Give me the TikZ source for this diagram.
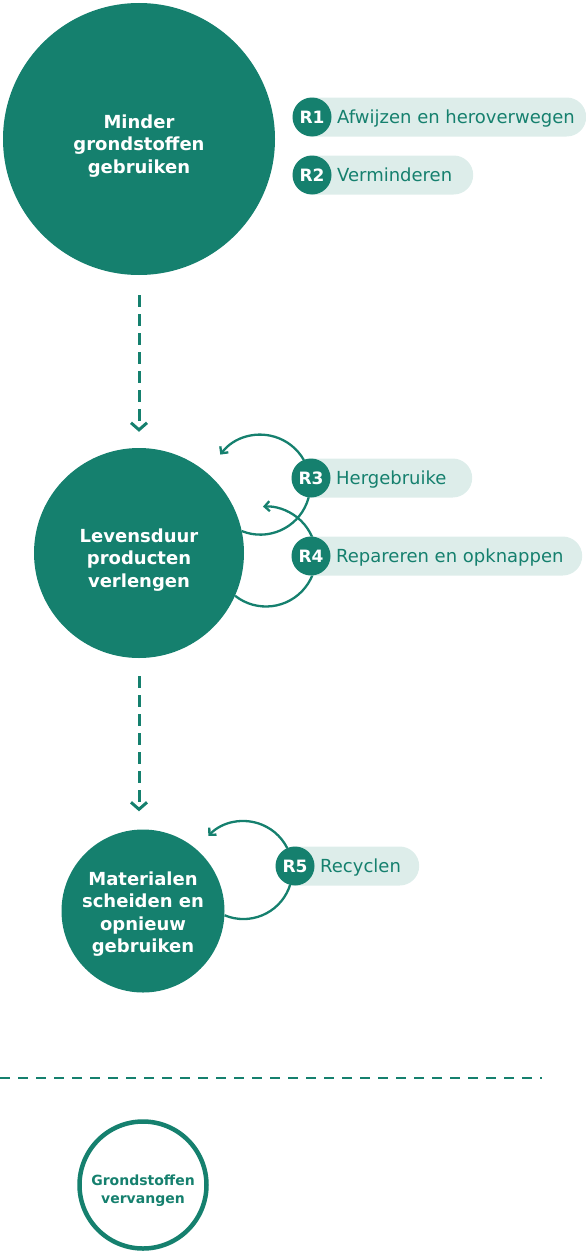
\documentclass[tikz,border=0pt]{standalone}
\usepackage{fontspec}
\setmainfont{DejaVu Sans}
\usepackage{tikz}
\usetikzlibrary{arrows.meta}
\usepackage{xcolor}
\definecolor{rgreen}{HTML}{15806E}
\definecolor{rpale}{HTML}{DDEDEA}
\tikzset{
    bigcirc/.style={
        circle,
        fill=rgreen,
        inner sep=0mm
    },
    bigtext/.style={
        text=white,
        inner sep=0mm,
        align=center,
        font=\bfseries\fontsize{18}{22.5}\selectfont
    },
    ringcirc/.style={
        circle,
        draw=rgreen,
        line width=4.5pt,
        inner sep=0mm
    },
    ringtext/.style={text=rgreen,inner sep=0mm,align=center,font=\bfseries\fontsize{14}{18}\selectfont},
    rtoken/.style={circle,fill=rgreen,minimum size=39pt,inner sep=0mm,text=white,font=\bfseries\fontsize{17}{18}\selectfont},
    rpill/.style={rectangle,fill=rpale,rounded corners=19.5pt,minimum height=39pt,inner sep=0mm,anchor=west},
    rtext/.style={anchor=base west,inner sep=0mm,text=rgreen,font=\fontsize{18}{22}\selectfont},
    dasharrow/.style={draw=rgreen,line width=3pt,dash pattern=on 12pt off 7pt,-{Straight Barb[length=7pt,width=16pt]}},
    looparrow/.style={draw=rgreen,line width=2.3pt,-{Straight Barb[length=5pt,width=10pt]}},
    sepline/.style={draw=rgreen,line width=2pt,dash pattern=on 10pt off 8pt}
}
\newcommand{\rstep}[6] {
    \node[rpill,minimum width=#4-#2+19.5] (#1bar) at (#2-19.5, #3) {};
    \node[rtext] (#1txt) at (#2+25, #3+6) {#6};
    \node[rtoken] (#1) at (#2, #3) {#5};
}
\begin{document}
\begin{tikzpicture}[x=1pt,y=-1pt]
    \useasboundingbox (0,0) rectangle (586,1255);
    % stages
    \node[bigcirc,minimum size=272pt] (minder) at (139,139) {};
    \node[bigtext] (mindertxt) at (139,146) {Minder\\grondstoffen\\gebruiken};
    \node[bigcirc,minimum size=210pt] (levens) at (139,553) {};
    \node[bigtext] (levenstxt) at (139,560) {Levensduur\\producten\\verlengen};
    \node[bigcirc,minimum size=163pt] (mater) at (143,911) {};
    \node[bigtext] (matertxt) at (143,914) {Materialen\\scheiden en\\opnieuw\\gebruiken};
    % down
    \draw[dasharrow,shorten <=20pt,shorten >=16pt] (minder) -- (levens);
    \draw[dasharrow,shorten <=18pt,shorten >=18pt] (levens) -- (levens |- mater.north);
    % loops
    \draw[looparrow] (levens.12.5) arc[start angle=111.6,end angle=-143.1,radius=50];
    \draw[looparrow] (levens.-24.6) arc[start angle=128.2,end angle=-93.5,radius=50];
    \draw[looparrow] (mater.-3) arc[start angle=112.6,end angle=-135.8,radius=49];
    % r-strategies
    \rstep{rone}  {312}{117}{586}{R1}{Afwijzen en heroverwegen}
    \rstep{rtwo}  {312}{175}{473}{R2}{Verminderen}
    \rstep{rthree}{311}{478}{472}{R3}{Hergebruike}
    \rstep{rfour} {311}{556}{582}{R4}{Repareren en opknappen}
    \rstep{rfive} {295}{866}{419}{R5}{Recyclen}
    % separator
    \coordinate (sepleft) at (0,1078);
    \coordinate (sepright) at (542,1078);
    \draw[sepline] (sepleft) -- (sepright);
    % substitute
    \node[ringcirc,minimum size=127pt] (vervang) at (143,1185) {};
    \node[ringtext] (vervangtxt) at (143,1191) {Grondstoffen\\vervangen};
\end{tikzpicture}
\end{document}
